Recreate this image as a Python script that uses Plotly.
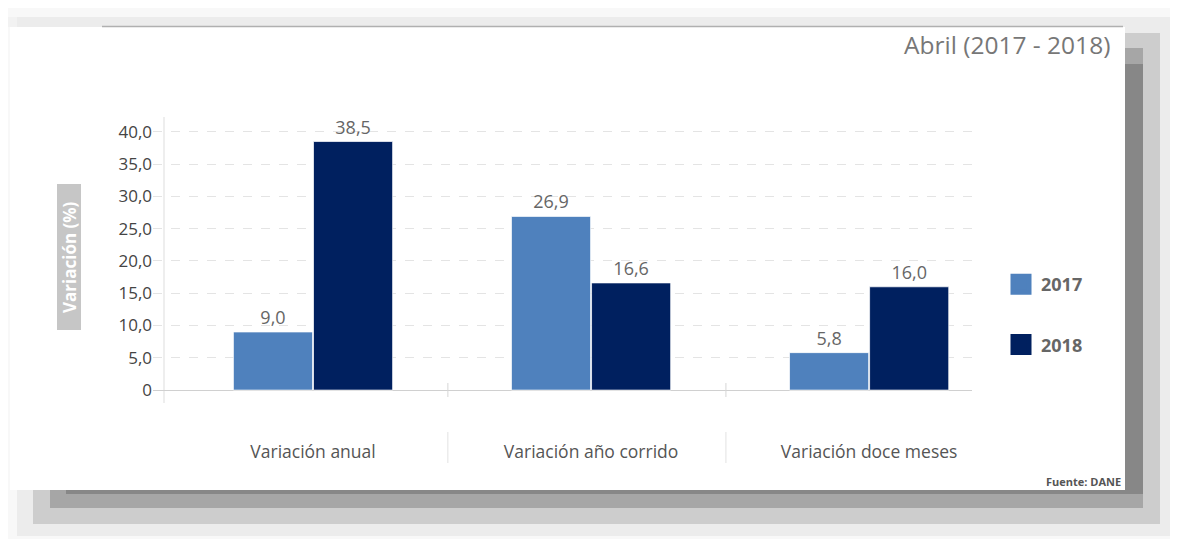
import plotly.graph_objects as go

W, H = 1178, 539
OFF = 8  # page body margin
FW, FH = W - OFF, H - OFF

categories = ["Variación anual", "Variación año corrido", "Variación doce meses"]
series_names = ["2017", "2018"]
values_2017 = [9.0, 26.9, 5.8]
values_2018 = [38.5, 16.6, 16.0]
tick_values = [0, 5, 10, 15, 20, 25, 30, 35, 40]
tick_labels = ["0", "5,0", "10,0", "15,0", "20,0", "25,0", "30,0", "35,0", "40,0"]
colors = ["#4f81bd", "#00205f"]

def px(x):
    return (x - OFF) / FW

def py(y):
    return 1 - (y - OFF) / FH

FONT = "Open Sans"

fig = go.Figure()
for name, vals, col in zip(series_names, [values_2017, values_2018], colors):
    fig.add_trace(go.Bar(
        x=categories, y=vals, name=name, showlegend=False,
        marker=dict(color=col, line=dict(color="rgba(255,255,255,0.7)", width=1)),
        texttemplate="%{y:.1f}", textposition="outside",
        textfont=dict(family=FONT, size=18, color="#666666"),
        cliponaxis=False, hoverinfo="skip",
    ))
# legend entries with larger square symbols
for name, col in zip(series_names, colors):
    fig.add_trace(go.Scatter(
        x=[None], y=[None], mode="markers", name=name, legendgroup=name,
        marker=dict(symbol="square", size=22, color=col, line=dict(color=col, width=5)),
    ))

shapes = []
# drop shadow bands (lightest/largest first), then white card
for (x0, y0, x1, y1, c) in [
    (0, 17, 1178, 27, "#f2f2f2"),
    (17, 17, 1178, 536, "#ececec"),
    (33, 33, 1160, 524, "#cdcdcd"),
    (50, 48, 1143, 508, "#a6a6a6"),
    (66, 64, 1143, 494, "#878787"),
    (10, 27, 1125, 490, "#ffffff"),
]:
    shapes.append(dict(type="rect", xref="paper", yref="paper", x0=px(x0), x1=px(x1),
                       y0=py(y1), y1=py(y0), fillcolor=c, line=dict(width=0), layer="below"))
# top rule
shapes.append(dict(type="line", xref="paper", yref="paper", x0=px(102), x1=px(1123),
                   y0=py(26.5), y1=py(26.5), line=dict(color="#b0b0b0", width=1.5), layer="below"))
# y axis line
shapes.append(dict(type="line", xref="paper", yref="paper", x0=px(164), x1=px(164),
                   y0=py(403), y1=py(117), line=dict(color="#dddddd", width=1), layer="below"))
# y-axis title box
shapes.append(dict(type="rect", xref="paper", yref="paper", x0=px(57), x1=px(81),
                   y0=py(330), y1=py(184), fillcolor="#c6c6c6", line=dict(width=0), layer="below"))
# category boundary ticks and separators
for b in [0.5, 1.5]:
    shapes.append(dict(type="line", xref="x", yref="paper", x0=b - 0.015, x1=b - 0.015,
                       y0=py(397), y1=py(383), line=dict(color="#d6d6d6", width=1)))
    shapes.append(dict(type="line", xref="x", yref="paper", x0=b - 0.015, x1=b - 0.015,
                       y0=py(463), y1=py(432), line=dict(color="#e2e2e2", width=1)))

annotations = [
    dict(text="Abril (2017 - 2018)", xref="paper", yref="paper", x=px(1112), y=py(44),
         xanchor="right", yanchor="middle", showarrow=False,
         font=dict(family=FONT, size=24.5, color="#777777")),
    dict(text="<b>Fuente: DANE</b>", xref="paper", yref="paper", x=px(1123), y=py(481),
         xanchor="right", yanchor="middle", showarrow=False,
         font=dict(family=FONT, size=11, color="#555555")),
    dict(text="<b>Variación (%)</b>", xref="paper", yref="paper", x=px(69), y=py(257),
         xanchor="center", yanchor="middle", showarrow=False, textangle=-90,
         font=dict(family=FONT, size=17, color="#ffffff")),
]

fig.update_layout(
    width=FW, height=FH,
    margin=dict(l=0, r=0, t=0, b=0),
    paper_bgcolor="#f8f8f8", plot_bgcolor="rgba(0,0,0,0)",
    separators=",.",
    barmode="group", bargap=0.424, bargroupgap=0.012,
    shapes=shapes, annotations=annotations,
    showlegend=True,
    legend=dict(x=px(1001), y=py(266), xanchor="left", yanchor="top",
                bgcolor="rgba(0,0,0,0)", tracegroupgap=34,
                font=dict(family=FONT, size=18, color="#666666", weight="bold")),
    xaxis=dict(domain=[px(153), px(972)], range=[-0.5755, 2.37],
               showgrid=False, showline=False, zeroline=False, ticks="",
               ticklabelstandoff=36,
               tickfont=dict(family=FONT, size=17.5, color="#555555")),
    yaxis=dict(domain=[py(403), py(117)], range=[-2.0, 42.3],
               tickmode="array", tickvals=tick_values, ticktext=tick_labels,
               showgrid=True, gridcolor="#e4e4e4", griddash="dash", gridwidth=1,
               zeroline=True, zerolinecolor="#d0d0d0", zerolinewidth=1,
               showline=False, ticks="",
               tickfont=dict(family=FONT, size=17, color="#444444")),
)

fig.write_html("out.html")
